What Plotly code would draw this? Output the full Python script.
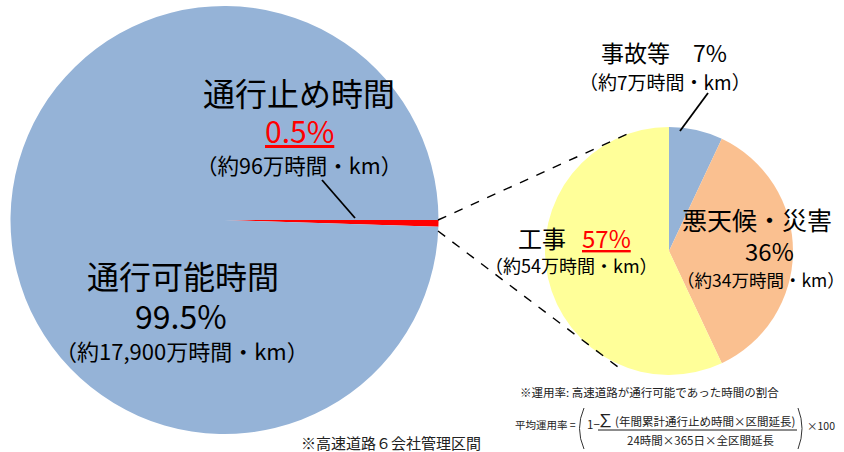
import plotly.graph_objects as go

W, H = 844, 452
FONT = "Noto Sans CJK JP"

# Overall split of road-hours
main_labels = ["通行止め時間", "通行可能時間"]
main_values = [0.5, 99.5]
main_colors = ["#FF0000", "#95B3D7"]

# Breakdown of closure time by cause
cause_labels = ["事故等", "悪天候・災害", "工事"]
cause_values = [7, 36, 57]
cause_colors = ["#95B3D7", "#FAC090", "#FFFF99"]


def px(x):
    return x / W


def py(y):
    return 1 - y / H


fig = go.Figure()

fig.add_trace(go.Pie(
    labels=main_labels, values=main_values, sort=False,
    direction="clockwise", rotation=90,
    marker=dict(colors=main_colors, line=dict(width=0)),
    textinfo="none", hoverinfo="label+percent", showlegend=False,
    domain=dict(x=[px(10.5), px(438.5)], y=[py(434), py(6)]),
))

fig.add_trace(go.Pie(
    labels=cause_labels, values=cause_values, sort=False,
    direction="clockwise", rotation=0,
    marker=dict(colors=cause_colors, line=dict(width=0)),
    textinfo="none", hoverinfo="label+percent", showlegend=False,
    domain=dict(x=[px(545), px(793)], y=[py(375), py(127)]),
))

shapes = []


def line(x0, y0, x1, y1, dash="solid", width=1.6):
    shapes.append(dict(type="line", xref="paper", yref="paper",
                       x0=px(x0), y0=py(y0), x1=px(x1), y1=py(y1),
                       line=dict(color="black", width=width, dash=dash)))


# connectors from the closure slice to the breakdown pie
line(438, 220, 634, 131, dash="dash", width=1.4)
line(438, 231, 622, 370, dash="dash", width=1.4)
# leader lines
line(322, 180, 355, 218, width=1.8)
line(708, 93, 680, 131, width=1.8)


# formula: parentheses and fraction bar
def paren(xt, xm, ytop, ybot):
    ym = (ytop + ybot) / 2
    shapes.append(dict(type="path", xref="paper", yref="paper",
                       path=f"M {px(xt)},{py(ytop)} Q {px(xm)},{py(ym)} {px(xt)},{py(ybot)}",
                       line=dict(color="#333", width=1)))


paren(584, 575, 408, 449)
paren(798, 806, 408, 449)
line(598, 430, 797, 430, width=0.9)

annotations = []


def text(x, y, s, size, color="black", xanchor="center"):
    annotations.append(dict(x=px(x), y=py(y), xref="paper", yref="paper",
                            text=s, showarrow=False, xanchor=xanchor, yanchor="middle",
                            font=dict(family=FONT, size=size, color=color)))


text(299, 92, "通行止め時間", 32)
text(299, 130, "<u>0.5%</u>", 30, color="#FF0000")
text(299, 165, "（約96万時間・km）", 21.5)

text(183, 275, "通行可能時間", 32)
text(181, 315, "99.5%", 32)
text(182, 350, "（約17,900万時間・km）", 22)

text(664, 52, "事故等　7%", 23)
text(665, 81, "（約7万時間・km）", 19)

text(757, 219, "悪天候・災害", 25)
text(769, 250, "36%", 24)
text(761, 279, "（約34万時間・km）", 17.5)

text(542, 237, "工事", 24)
text(606, 237, "<u>57%</u>", 24, color="#FF0000")
text(571, 265, "（約54万時間・km）", 18)

text(391, 442, "※高速道路６会社管理区間", 15, color="#222")
text(649, 392, "※運用率: 高速道路が通行可能であった時間の割合", 11.5, color="#222")
text(513, 424, "平均運用率 =", 10.5, color="#222", xanchor="left")
text(585, 424, "1−", 11.5, color="#222", xanchor="left")
text(605, 419, "∑", 17, color="#222")
text(613, 421, "(年間累計通行止め時間×区間延長)", 11.5, color="#222", xanchor="left")
text(700, 440, "24時間×365日×全区間延長", 11.5, color="#222")
text(805, 425, "×100", 10.5, color="#222", xanchor="left")

fig.update_layout(
    width=W, height=H,
    margin=dict(l=0, r=0, t=0, b=0),
    paper_bgcolor="white", plot_bgcolor="white",
    shapes=shapes, annotations=annotations,
    font=dict(family=FONT),
)

fig.write_html("out.html")
